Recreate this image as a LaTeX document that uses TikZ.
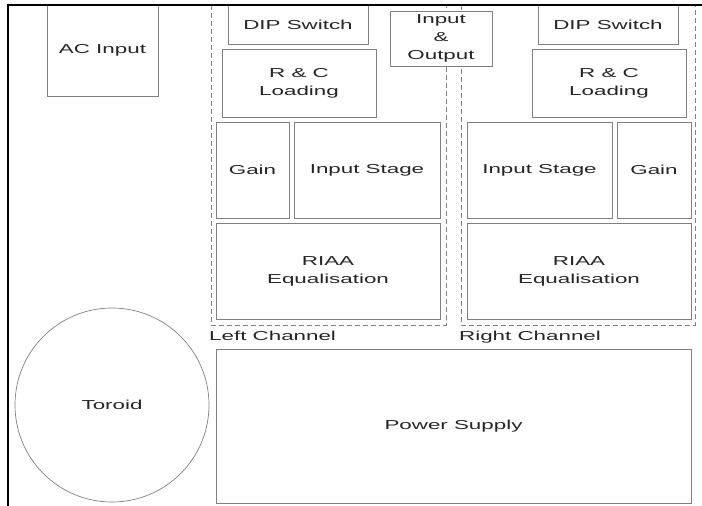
\documentclass[tikz,border=0pt]{standalone}
\usepackage{fontspec}
\setmainfont{Liberation Sans}[FakeStretch=1.72]

\begin{document}
\begin{tikzpicture}[x=1pt,y=-1pt,font=\fontsize{13}{18}\selectfont,text=black!85,
		block/.style 2 args={draw=gray,fill=white,rectangle,align=center,inner sep=0pt,
			minimum width=#1pt,minimum height=#2pt,line width=0.9pt},
		chan/.style={draw=gray,dash pattern=on 5pt off 3pt,line width=0.8pt},
		chan label/.style={anchor=base west,inner sep=0pt}]
		\useasboundingbox (0,0) rectangle (702,506);
		\draw[chan] (211,5) rectangle (446,325);
		\draw[chan] (461,5) rectangle (695,325);
		\node[block={111}{91}] (acin) at (102.5,50.5) {AC Input};
		\node[block={140}{39}] (dipL) at (298,24.5) {DIP Switch};
		\node[block={154}{68}] (rcL) at (299,83) {R \& C\\Loading};
		\node[block={102}{55}] (io) at (441,38.5) {Input\\\&\\Output};
		\node[block={140}{39}] (dipR) at (608,24.5) {DIP Switch};
		\node[block={154}{68}] (rcR) at (609,83) {R \& C\\Loading};
		\node[block={73}{96}] (gainL) at (252.5,170) {Gain};
		\node[block={146}{96}] (instL) at (367,170) {Input Stage};
		\node[block={224}{96}] (riaaL) at (328,271) {RIAA\\Equalisation};
		\node[block={145}{96}] (instR) at (539.5,170) {Input Stage};
		\node[block={74}{96}] (gainR) at (654,170) {Gain};
		\node[block={224}{96}] (riaaR) at (579,271) {RIAA\\Equalisation};
		\node[chan label] (left) at (209,340) {Left Channel};
		\node[chan label] (right) at (459,340) {Right Channel};
		\node[block={475}{154}] (psu) at (453.5,426) {Power Supply};
		\node[draw=gray,circle,minimum size=194pt,inner sep=0pt,line width=0.7pt] (toroid) at (112,405) {Toroid};
		\draw[line width=1.5pt] (8,506) -- (8,5) -- (702,5);
\end{tikzpicture}
\end{document}
